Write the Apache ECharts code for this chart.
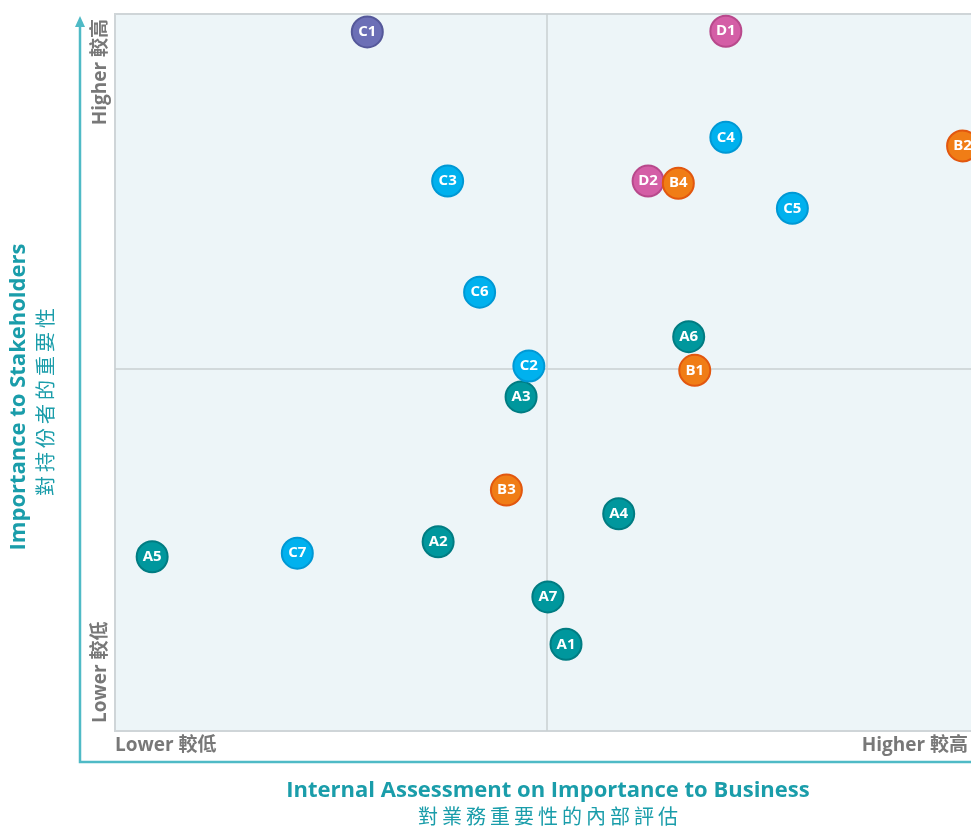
<!DOCTYPE html>
<html>
<head>
<meta charset="utf-8">
<script src="https://cdn.jsdelivr.net/npm/echarts@6/dist/echarts.min.js"></script>
<style>
  html, body { margin: 0; padding: 0; background: #fff; }
  #chart { width: 971px; height: 826px; }
</style>
</head>
<body>
<div id="chart"></div>
<script>
// 各議題: [內部評估, 持份者重要性, 標籤]
var groupA = [[52.2, 12.1, 'A1'], [37.4, 26.4, 'A2'], [47.0, 46.6, 'A3'], [58.3, 30.3, 'A4'],
              [4.3, 24.3, 'A5'], [66.4, 55.0, 'A6'], [50.1, 18.7, 'A7']];
var groupD = [[70.7, 97.6, 'D1'], [61.7, 76.7, 'D2']];
var groupB = [[67.1, 50.3, 'B1'], [98.1, 81.6, 'B2'], [45.3, 33.6, 'B3'], [65.2, 76.4, 'B4']];
var groupC = [[47.9, 50.9, 'C2'], [38.5, 76.7, 'C3'], [70.7, 82.8, 'C4'],
              [78.4, 72.9, 'C5'], [42.2, 61.2, 'C6'], [21.1, 24.8, 'C7']];
var groupC1 = [[29.2, 97.5, 'C1']];
var midX = 50;
var midY = 50.5;

var font = '"Open Sans", "Noto Sans", "Noto Sans CJK TC", sans-serif';
var cjk = '"Noto Sans CJK TC", sans-serif';
var thin = '\u2009';

var myChart = echarts.init(document.getElementById('chart'));

function bubbles(name, data, fill, edge) {
	return {
		type: 'scatter',
		name: name,
		data: data,
		z: 3,
		symbolSize: 31,
		itemStyle: { color: fill, borderColor: edge, borderWidth: 2, opacity: 1 },
		label: {
			show: true,
			position: 'inside',
			formatter: function (p) { return p.data[2]; },
			color: '#fff',
			fontWeight: 'bold',
			fontSize: 15,
			fontFamily: font
		},
		emphasis: { disabled: true }
	};
}

var option = {
	animation: false,
	grid: {
		left: 115, right: -8, top: 14, bottom: 95,
		outerBoundsMode: 'none',
		show: true,
		backgroundColor: '#edf5f8',
		borderColor: '#cfd5d8',
		borderWidth: 2
	},
	xAxis: {
		type: 'value', min: 0, max: 100,
		axisLine: { show: false }, axisTick: { show: false },
		axisLabel: { show: false }, splitLine: { show: false }
	},
	yAxis: {
		type: 'value', min: 0, max: 100,
		axisLine: { show: false }, axisTick: { show: false },
		axisLabel: { show: false }, splitLine: { show: false }
	},
	graphic: [
		// 坐標軸 (teal)
		{ type: 'polyline', shape: { points: [[80, 24], [80, 762], [990, 762]] },
		  style: { stroke: '#4fbac6', lineWidth: 2.5, fill: null } },
		{ type: 'polygon', shape: { points: [[80, 16], [75, 27], [85, 27]] },
		  style: { fill: '#4fbac6' } },
		// y 軸 高/低
		{ type: 'text', x: 91, y: 19, rotation: Math.PI / 2,
		  style: { text: 'Higher 較高', fill: '#787878', font: 'bold 19px ' + font,
		           textAlign: 'right', textVerticalAlign: 'top' } },
		{ type: 'text', x: 91, y: 723, rotation: Math.PI / 2,
		  style: { text: 'Lower 較低', fill: '#787878', font: 'bold 19px ' + font,
		           textAlign: 'left', textVerticalAlign: 'top' } },
		// x 軸 高/低
		{ type: 'text', x: 115, y: 746,
		  style: { text: 'Lower 較低', fill: '#787878', font: 'bold 19px ' + font,
		           textAlign: 'left', textVerticalAlign: 'middle' } },
		{ type: 'text', x: 968, y: 746,
		  style: { text: 'Higher 較高', fill: '#787878', font: 'bold 19px ' + font,
		           textAlign: 'right', textVerticalAlign: 'middle' } },
		// 軸標題
		{ type: 'text', x: 19, y: 397, rotation: Math.PI / 2,
		  style: { text: 'Importance to Stakeholders', fill: '#1a9daa', font: 'bold 22px ' + font,
		           textAlign: 'center', textVerticalAlign: 'middle' } },
		{ type: 'text', x: 45, y: 402, rotation: Math.PI / 2,
		  style: { text: '對持份者的重要性'.split('').join(thin), fill: '#1a9daa', font: '20px ' + cjk,
		           textAlign: 'center', textVerticalAlign: 'middle' } },
		{ type: 'text', x: 548, y: 791,
		  style: { text: 'Internal Assessment on Importance to Business', fill: '#1a9daa',
		           font: 'bold 22px ' + font, textAlign: 'center', textVerticalAlign: 'middle' } },
		{ type: 'text', x: 548, y: 816,
		  style: { text: '對業務重要性的內部評估'.split('').join(thin), fill: '#1a9daa', font: '20px ' + cjk,
		           textAlign: 'center', textVerticalAlign: 'middle' } }
	],
	series: [
		{
			// 象限分隔線
			type: 'scatter', data: [], z: 1, silent: true,
			markLine: {
				silent: true,
				z: 1,
				symbol: 'none',
				label: { show: false },
				lineStyle: { color: '#c9cfd2', width: 1.5, type: 'solid' },
				data: [{ xAxis: midX }, { yAxis: midY }]
			}
		},
		bubbles('A', groupA, '#00979d', '#007c82'),
		bubbles('D', groupD, '#d45ea6', '#b8498c'),
		bubbles('B', groupB, '#f07d16', '#e2570f'),
		bubbles('C', groupC, '#00b1ee', '#0098d4'),
		bubbles('C1', groupC1, '#6c6fb6', '#55589a')
	]
};

myChart.setOption(option);
</script>
</body>
</html>
